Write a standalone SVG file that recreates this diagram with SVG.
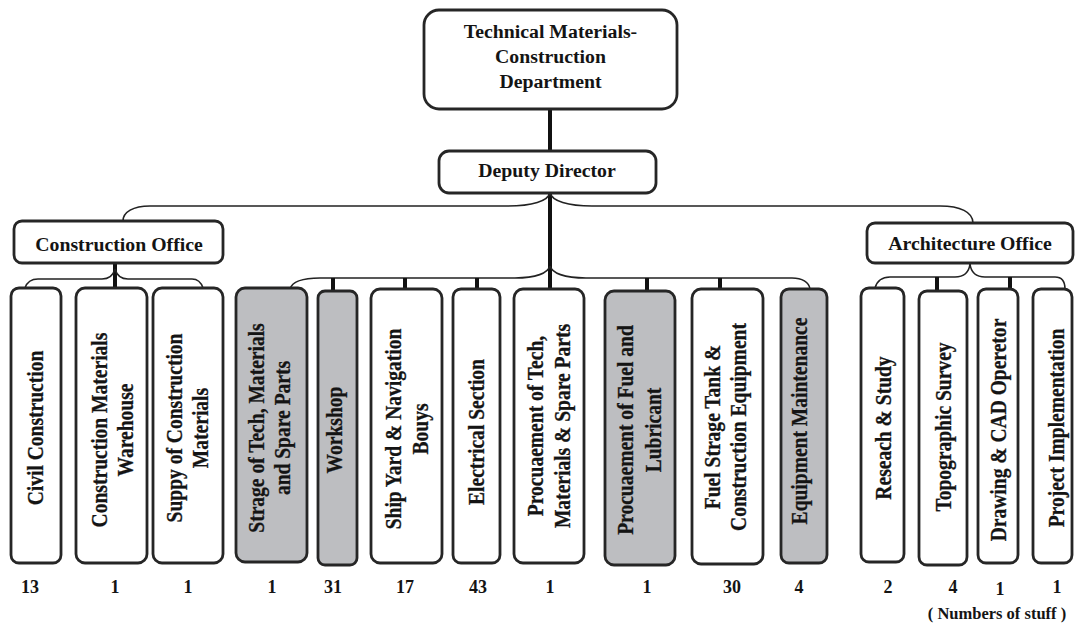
<svg xmlns="http://www.w3.org/2000/svg" width="1076" height="624" viewBox="0 0 1076 624">
  <style>
    .box { fill: #ffffff; stroke: #262626; stroke-width: 2.8; }
    .shaded { fill: #bdbec1; }
    .t { font-family: "Liberation Serif", "Times New Roman", serif; font-weight: bold; fill: #141414; }
    .h { font-size: 19.8px; text-anchor: middle; }
    .v { font-size: 23px; text-anchor: middle; stroke: #141414; stroke-width: 0.3; }
    .n { font-size: 18px; text-anchor: middle; }
    .thick { fill: none; stroke: #111111; stroke-width: 4; }
    .thin { fill: none; stroke: #222222; stroke-width: 1.6; }
  </style>

  <!-- connectors -->
  <g id="connectors">
    <line class="thick" x1="550" y1="109" x2="550" y2="152"/>
    <line class="thick" x1="550" y1="193" x2="550" y2="289"/>
    <!-- deputy to offices -->
    <path class="thin" d="M123,221 C123,212 133,206 150,206 L508,206 C532,206 548,201 550,193"/>
    <path class="thin" d="M550,193 C552,201 568,206 592,206 L940,206 C960,206 973,212 973,223"/>
    <!-- deputy to sections -->
    <path class="thin" d="M290,289 C292,282 302,278 320,278 L515,278 C536,278 548,273 550,266"/>
    <path class="thin" d="M550,266 C552,273 564,278 586,278 L792,278 C802,278 809,282 810,289"/>
    <line class="thick" x1="333" y1="278" x2="333" y2="291"/>
    <line class="thick" x1="405" y1="278" x2="405" y2="289"/>
    <line class="thick" x1="477" y1="278" x2="477" y2="289"/>
    <line class="thick" x1="647" y1="278" x2="647" y2="291"/>
    <line class="thick" x1="720" y1="278" x2="720" y2="289"/>
    <!-- construction office -->
    <line class="thick" x1="115" y1="263" x2="115" y2="288"/>
    <path class="thin" d="M25,288 C27,282 31,279 38,279 L102,279 C109,279 113,276 115,269"/>
    <path class="thin" d="M115,269 C117,276 121,279 128,279 L192,279 C198,279 201,282 203,288"/>
    <!-- architecture office -->
    <path class="thin" d="M875,288 C877,281 881,277 890,277 L955,277 C964,277 969,272 970,264"/>
    <path class="thin" d="M970,264 C971,272 976,277 985,277 L1055,277 C1062,277 1065,282 1065,289"/>
    <line class="thick" x1="937" y1="277" x2="937" y2="291"/>
    <line class="thick" x1="1010" y1="277" x2="1010" y2="289"/>
  </g>

  <!-- department -->
  <g id="department">
    <rect class="box" x="424" y="10" width="253" height="99" rx="15"/>
    <text class="t h" x="550.5" y="37.5">Technical Materials-</text>
    <text class="t h" x="550.5" y="63">Construction</text>
    <text class="t h" x="550.5" y="88">Department</text>
  </g>

  <g id="deputy-director">
    <rect class="box" x="439" y="151" width="217" height="42" rx="10"/>
    <text class="t h" x="547" y="177">Deputy Director</text>
  </g>

  <g id="construction-office">
    <rect class="box" x="14" y="221" width="209" height="42" rx="8"/>
    <text class="t h" x="119" y="251">Construction Office</text>
  </g>

  <g id="architecture-office">
    <rect class="box" x="867" y="223" width="206" height="40" rx="8"/>
    <text class="t h" x="970" y="250">Architecture Office</text>
  </g>

  <!-- sections (labels read bottom to top) -->
  <g id="civil-construction">
    <rect class="box" x="11" y="288" width="50" height="275" rx="8"/>
    <text class="t v" transform="translate(43,428) rotate(-90) scale(0.85,1)">Civil Construction</text>
  </g>
  <g id="construction-materials-warehouse">
    <rect class="box" x="76" y="288" width="71" height="275" rx="9"/>
    <text class="t v" transform="translate(107,430) rotate(-90) scale(0.85,1)">Construction Materials</text>
    <text class="t v" transform="translate(133,430) rotate(-90) scale(0.85,1)">Warehouse</text>
  </g>
  <g id="supply-of-construction-materials">
    <rect class="box" x="153" y="288" width="70" height="275" rx="9"/>
    <text class="t v" transform="translate(182,428) rotate(-90) scale(0.85,1)">Suppy of Construction</text>
    <text class="t v" transform="translate(208,428) rotate(-90) scale(0.85,1)">Materials</text>
  </g>
  <g id="storage-of-tech">
    <rect class="box shaded" x="236" y="288" width="71" height="274" rx="9"/>
    <text class="t v" transform="translate(264,428) rotate(-90) scale(0.85,1)">Strage of Tech, Materials</text>
    <text class="t v" transform="translate(290,428) rotate(-90) scale(0.85,1)">and Spare Parts</text>
  </g>
  <g id="workshop">
    <rect class="box shaded" x="318" y="291" width="39" height="274" rx="7"/>
    <text class="t v" transform="translate(342,430) rotate(-90) scale(0.85,1)">Workshop</text>
  </g>
  <g id="ship-yard">
    <rect class="box" x="371" y="289" width="71" height="274" rx="9"/>
    <text class="t v" transform="translate(401,429) rotate(-90) scale(0.85,1)">Ship Yard &amp; Navigation</text>
    <text class="t v" transform="translate(428,429) rotate(-90) scale(0.85,1)">Bouys</text>
  </g>
  <g id="electrical-section">
    <rect class="box" x="453" y="289" width="47" height="274" rx="8"/>
    <text class="t v" transform="translate(484,432) rotate(-90) scale(0.85,1)">Electrical Section</text>
  </g>
  <g id="procurement-of-tech">
    <rect class="box" x="514" y="289" width="70" height="274" rx="9"/>
    <text class="t v" transform="translate(543,426) rotate(-90) scale(0.85,1)">Procuaement of Tech,</text>
    <text class="t v" transform="translate(570,426) rotate(-90) scale(0.85,1)">Materials &amp; Spare Parts</text>
  </g>
  <g id="procurement-of-fuel">
    <rect class="box shaded" x="605" y="291" width="70" height="274" rx="9"/>
    <text class="t v" transform="translate(633,430) rotate(-90) scale(0.85,1)">Procuaement of Fuel and</text>
    <text class="t v" transform="translate(661,430) rotate(-90) scale(0.85,1)">Lubricant</text>
  </g>
  <g id="fuel-storage-tank">
    <rect class="box" x="692" y="289" width="71" height="275" rx="9"/>
    <text class="t v" transform="translate(720,427) rotate(-90) scale(0.85,1)">Fuel Strage Tank &amp;</text>
    <text class="t v" transform="translate(746,427) rotate(-90) scale(0.85,1)">Construction Equipment</text>
  </g>
  <g id="equipment-maintenance">
    <rect class="box shaded" x="781" y="289" width="46" height="274" rx="8"/>
    <text class="t v" transform="translate(807,421) rotate(-90) scale(0.85,1)">Equipment Maintenance</text>
  </g>
  <g id="research-and-study">
    <rect class="box" x="861" y="288" width="43" height="274" rx="8"/>
    <text class="t v" transform="translate(891,428) rotate(-90) scale(0.85,1)">Reseach &amp; Study</text>
  </g>
  <g id="topographic-survey">
    <rect class="box" x="919" y="291" width="48" height="274" rx="8"/>
    <text class="t v" transform="translate(951,427) rotate(-90) scale(0.85,1)">Topographic Survey</text>
  </g>
  <g id="drawing-cad">
    <rect class="box" x="978" y="289" width="40" height="274" rx="8"/>
    <text class="t v" transform="translate(1006,430) rotate(-90) scale(0.85,1)">Drawing &amp; CAD Operetor</text>
  </g>
  <g id="project-implementation">
    <rect class="box" x="1033" y="289" width="39" height="274" rx="8"/>
    <text class="t v" transform="translate(1064,428) rotate(-90) scale(0.85,1)">Project Implementation</text>
  </g>

  <!-- staff counts -->
  <g id="staff-counts" class="t n">
    <text x="30" y="593">13</text>
    <text x="115" y="593">1</text>
    <text x="188" y="593">1</text>
    <text x="272" y="593">1</text>
    <text x="333" y="593">31</text>
    <text x="405" y="593">17</text>
    <text x="478" y="593">43</text>
    <text x="550" y="593">1</text>
    <text x="647" y="593">1</text>
    <text x="732" y="593">30</text>
    <text x="799" y="593">4</text>
    <text x="888" y="593">2</text>
    <text x="953" y="593">4</text>
    <text x="1000" y="595">1</text>
    <text x="1057" y="593">1</text>
    <text x="997" y="619" style="font-size:16.5px">( Numbers of stuff )</text>
  </g>
</svg>
